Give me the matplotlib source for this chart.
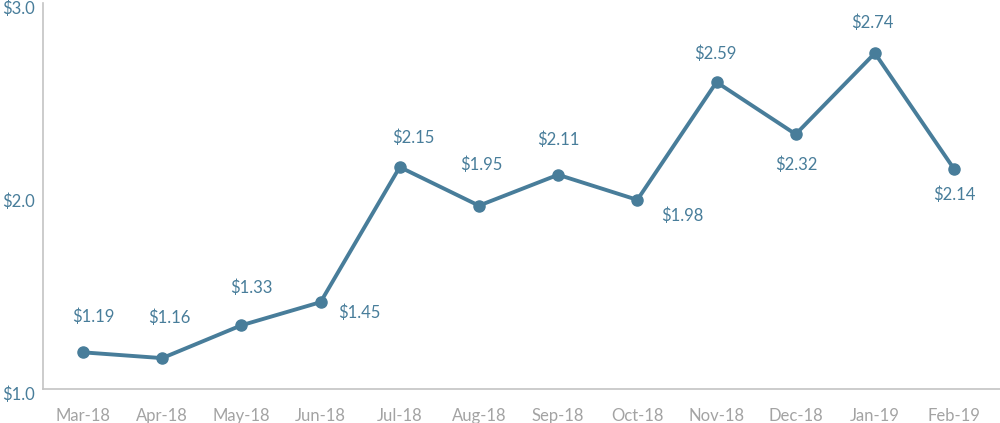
import matplotlib
matplotlib.use("Agg")
import matplotlib.pyplot as plt
from matplotlib.transforms import ScaledTranslation

months = ["Mar-18", "Apr-18", "May-18", "Jun-18", "Jul-18", "Aug-18",
          "Sep-18", "Oct-18", "Nov-18", "Dec-18", "Jan-19", "Feb-19"]
values = [1.19, 1.16, 1.33, 1.45, 2.15, 1.95, 2.11, 1.98, 2.59, 2.32, 2.74, 2.14]
value_labels = ["$1.19", "$1.16", "$1.33", "$1.45", "$2.15", "$1.95",
                "$2.11", "$1.98", "$2.59", "$2.32", "$2.74", "$2.14"]
ytick_values = [1.0, 2.0, 3.0]
ytick_labels = ["$1.0", "$2.0", "$3.0"]

# label offsets in pixels (dx, dy) relative to each point (layout only)
label_offsets = [(10, 36), (7, 40), (10, 38), (39, -11), (14, 29), (2, 41),
                 (0, 35), (45, -16), (-1, 28), (1, -31), (-3, 30), (0, -26)]

BLUE = "#487d9a"
GRAY_TEXT = "#a3a3a3"
SPINE = "#c4c4c4"
FONT = "Lato"

fig = plt.figure(figsize=(10, 4.23), dpi=100)
ax = fig.add_axes([0.043, 1 - 389 / 423, 1 - 0.043, (389 - 3) / 423])

x = list(range(len(months)))
ax.plot(x, values, color=BLUE, linewidth=2.8, marker="o", markersize=8,
        solid_joinstyle="round", zorder=3)

for xi, v, lab, (dx, dy) in zip(x, values, value_labels, label_offsets):
    ax.annotate(lab, (xi, v), xytext=(dx, dy), textcoords="offset pixels",
                ha="center", va="center", color=BLUE, fontsize=12,
                family=FONT)

ax.set_xlim(-0.505, 11.58)
ax.set_ylim(1.0, 3.0)
ax.set_xticks(x)
ax.set_xticklabels(months, color=GRAY_TEXT, fontsize=12, family=FONT)
ax.set_yticks(ytick_values)
ax.set_yticklabels(ytick_labels, color=BLUE, fontsize=12, family=FONT)
ax.tick_params(axis="x", length=0, pad=14)
ax.tick_params(axis="y", length=0, pad=6)

offset = ScaledTranslation(0, -4 / 100, fig.dpi_scale_trans)
for lbl in ax.get_yticklabels():
    lbl.set_transform(lbl.get_transform() + offset)

for side in ["top", "right"]:
    ax.spines[side].set_visible(False)
for side in ["left", "bottom"]:
    ax.spines[side].set_color(SPINE)
    ax.spines[side].set_linewidth(1.2)

fig.savefig("out.png", dpi=100)
